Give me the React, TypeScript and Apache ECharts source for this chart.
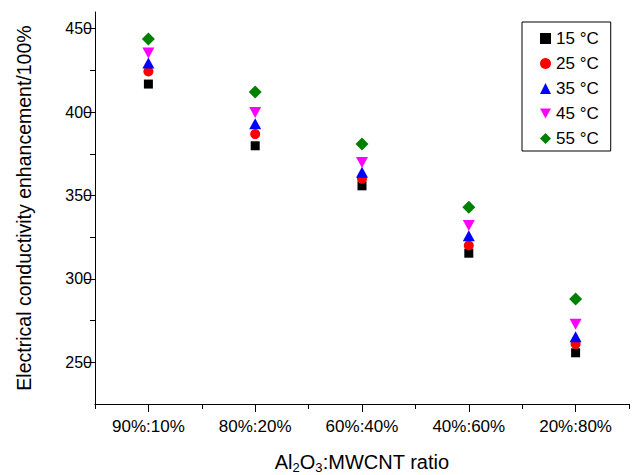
import React, { useEffect, useRef } from "react";
import * as echarts from "echarts";

const categories = ["90%:10%", "80%:20%", "60%:40%", "40%:60%", "20%:80%"];
const seriesNames = ["15 °C", "25 °C", "35 °C", "45 °C", "55 °C"];
const s15 = [416.8, 379.8, 355.8, 315.4, 255.7];
const s25 = [424.4, 386.8, 360.0, 320.0, 261.0];
const s35 = [429.4, 393.0, 364.0, 325.8, 265.3];
const s45 = [435.4, 399.8, 369.8, 332.0, 272.8];
const s55 = [443.8, 412.0, 380.8, 343.0, 288.0];
const yMajorTicks = [250, 300, 350, 400, 450];
const yMinorTicks = [275, 325, 375, 425];
const yMin = 225;
const yMax = 460;

const FONT = "Liberation Sans, Arial, Helvetica, sans-serif";

export default function App() {
  const ref = useRef<HTMLDivElement>(null);
  useEffect(() => {
    if (!ref.current) return;
    const chart = echarts.init(ref.current, undefined, { renderer: "svg" });
    const values = [s15, s25, s35, s45, s55];
    const symbols = [
      "rect",
      "circle",
      "triangle",
      "path://M0,0 L10,0 L5,9 Z",
      "diamond",
    ];
    const sizes: any[] = [9, 10, [12, 11], [12, 11], 13];
    const colors = ["#000000", "#ff0000", "#0000ff", "#ff00ff", "#008000"];
    chart.setOption({
      animation: false,
      textStyle: { fontFamily: FONT },
      grid: { left: 95, right: 4, top: 12, bottom: 71, containLabel: false, outerBoundsMode: "none" },
      legend: {
        orient: "vertical",
        left: 522,
        top: 22,
        borderColor: "#000",
        borderWidth: 1,
        padding: [8, 12, 4, 18],
        itemGap: 8,
        itemWidth: 11,
        itemHeight: 11,
        textStyle: { fontSize: 17, color: "#000", fontFamily: FONT },
        data: seriesNames,
      },
      xAxis: [
        {
          type: "category",
          data: categories,
          boundaryGap: true,
          axisLine: { show: true, lineStyle: { color: "#000", width: 1 } },
          axisTick: { show: true, alignWithLabel: true, length: 8, lineStyle: { color: "#000" } },
          axisLabel: { color: "#000", fontSize: 17, margin: 14, fontFamily: FONT },
          splitLine: { show: false },
          name: "{m|Al}{s|2}{m|O}{s|3}{m|:MWCNT ratio}",
          nameLocation: "middle",
          nameGap: 45,
          nameTextStyle: {
            color: "#000",
            fontFamily: FONT,
            rich: {
              m: { fontSize: 20, color: "#000", fontFamily: FONT },
              s: { fontSize: 13, color: "#000", fontFamily: FONT, padding: [12, 0, 0, 0] },
            },
          },
        },
        {
          type: "category",
          data: categories,
          boundaryGap: true,
          position: "bottom",
          axisLine: { show: false },
          axisTick: { show: true, length: 5, lineStyle: { color: "#000" } },
          axisLabel: { show: false },
          splitLine: { show: false },
        },
      ],
      yAxis: [
        {
          type: "value",
          min: yMin,
          max: yMax,
          axisLine: { show: true, lineStyle: { color: "#000", width: 1 } },
          axisTick: { show: true, length: 10, customValues: yMajorTicks, lineStyle: { color: "#000" } },
          axisLabel: { color: "#000", fontSize: 16, margin: 3, customValues: yMajorTicks, fontFamily: FONT },
          splitLine: { show: false },
          name: "Electrical conductivity enhancement/100%",
          nameLocation: "middle",
          nameGap: 61,
          nameTextStyle: { fontSize: 19.5, color: "#000", fontFamily: FONT },
        },
        {
          type: "value",
          min: yMin,
          max: yMax,
          position: "left",
          axisLine: { show: false },
          axisTick: { show: true, length: 5, customValues: yMinorTicks, lineStyle: { color: "#000" } },
          axisLabel: { show: false },
          splitLine: { show: false },
        },
      ],
      series: values.map((v, i) => ({
        name: seriesNames[i],
        type: "scatter",
        xAxisIndex: 0,
        yAxisIndex: 0,
        data: v,
        symbol: symbols[i],
        symbolSize: sizes[i],
        itemStyle: { color: colors[i], opacity: 1 },
        emphasis: { disabled: true },
        z: 2 + i,
      })),
    });
    return () => chart.dispose();
  }, []);
  return <div ref={ref} style={{ width: 633, height: 475, position: "absolute", left: 0, top: 0, background: "#fff" }} />;
}
